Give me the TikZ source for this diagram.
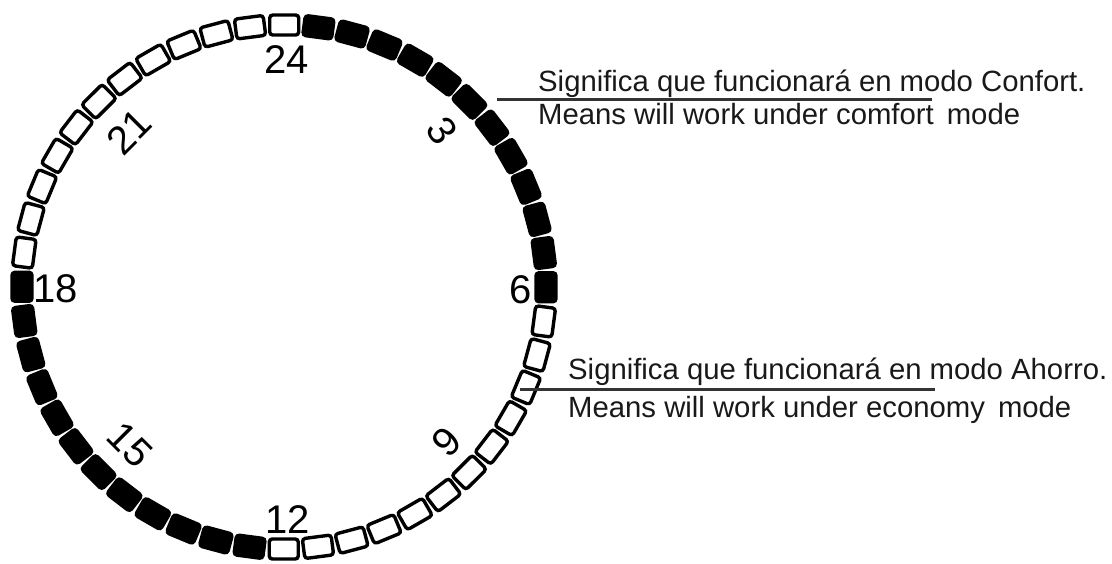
\documentclass[tikz,border=0pt]{standalone}
\usepackage{fontspec}
\setmainfont{Liberation Sans}
\usetikzlibrary{calc}
\begin{document}
\begin{tikzpicture}[x=1pt,y=1pt,
  seg/.style={rectangle, minimum width=29pt, minimum height=20pt, rounded corners=3pt, line width=3.4pt, draw=black, inner sep=0pt},
  segon/.style={seg, fill=black},
  segoff/.style={seg, fill=white},
  hour/.style={font=\fontsize{40}{40}\selectfont, inner sep=0pt},
  lbl/.style={font=\fontsize{29.3}{29.3}\selectfont, anchor=base west, inner sep=0pt, text=black!90},
  lead/.style={line width=3pt, draw=black!80}]
\fill[white] (0,0) rectangle (1112,563);
\useasboundingbox (0,0) rectangle (1112,563);
\coordinate (c) at (284,276);
\foreach \k in {0,...,47} {
  \pgfmathsetmacro\ang{82.45-7.5*\k}
  \pgfmathtruncatemacro\q{mod(int(\k/12),2)}
  \ifnum\q=0
    \node[segon, rotate=\ang-90] (s\k) at ($(c)+(\ang:262)$) {};
  \else
    \node[segoff, rotate=\ang-90] (s\k) at ($(c)+(\ang:262)$) {};
  \fi
}
\node[hour] (h24) at (287,503) {24};
\node[hour, rotate=-55] (h3) at (442,432) {3};
\node[hour] (h6) at (521,273) {6};
\node[hour, rotate=45] (h9) at (447,121) {9};
\node[hour] (h12) at (288,43) {12};
\node[hour, rotate=-45] (h15) at (130,118) {15};
\node[hour] (h18) at (56,274) {18};
\node[hour, rotate=45] (h21) at (129,431) {21};

\node[lbl] (t1a) at (538,471) {Significa que funcionará en modo Confort.};
\node[lbl] (t1b) at (538,438) {Means will work under comfort\, mode};
\coordinate (l1s) at (497,463);
\coordinate (l1e) at (932,463);
\draw[lead] (l1s) -- (l1e);

\node[lbl] (t2a) at (568,183) {Significa que funcionará en modo Ahorro.};
\node[lbl] (t2b) at (568,146) {Means will work under economy\, mode};
\coordinate (l2s) at (520,173);
\coordinate (l2e) at (935,173);
\draw[lead] (l2s) -- (l2e);
\end{tikzpicture}
\end{document}
